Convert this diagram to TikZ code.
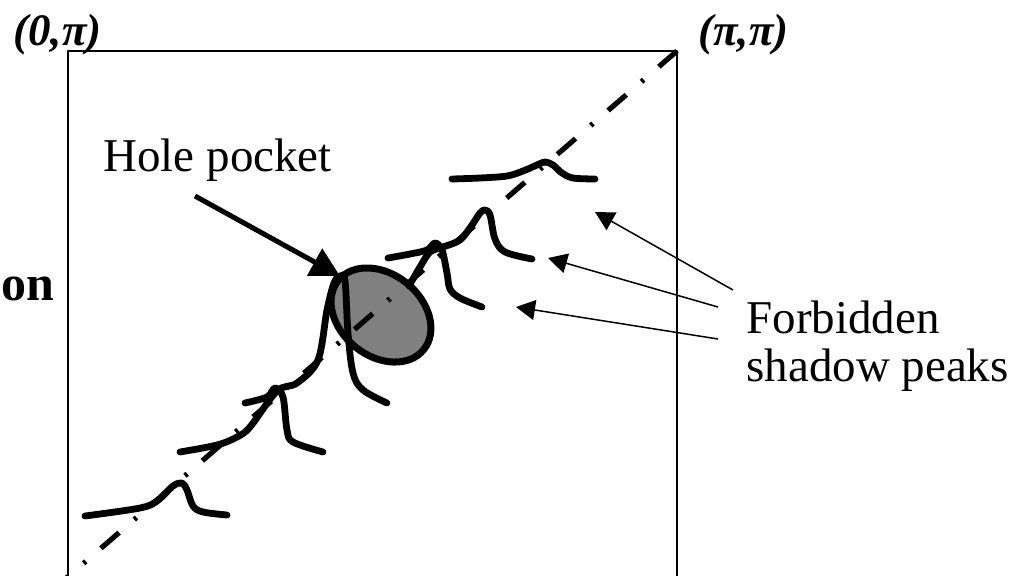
\documentclass[tikz,border=0pt]{standalone}
\usepackage{fontspec}
\setmainfont{Liberation Serif}
\usetikzlibrary{arrows.meta,shapes.geometric}
\definecolor{pkInk}{HTML}{000000}
\definecolor{pkGray}{HTML}{808080}
\tikzset{
 shadowfig/.style={line cap=butt,line join=round,text=pkInk,
   every node/.style={inner sep=0pt}},
 frame/.style={draw=pkInk,line width=.8pt},
 nodal/.style={draw=pkInk,line width=2.6pt,
   dash pattern=on 12pt off 10pt on 1.5pt off 10pt},
 peak/.style={draw=pkInk,line width=3.4pt,line cap=round,line join=round},
 pocket/.style={ellipse,draw=pkInk,fill=pkGray,line width=3.5pt,
   minimum width=55pt,minimum height=41pt,inner sep=0pt,rotate=-39},
 bigarrow/.style={draw=pkInk,line width=2.5pt,-{Triangle[length=14.5pt,width=15pt]}},
 thinarrow/.style={draw=pkInk,line width=.75pt,-{Triangle[length=9.5pt,width=10pt]}},
 lbl/.style={font=\fontsize{23.5}{24}\selectfont,align=left},
 cornerlbl/.style={font=\fontsize{22.5}{24}\selectfont\bfseries\itshape,anchor=base west}
}

\begin{document}
\begin{tikzpicture}[shadowfig,x=.5pt,y=-.5pt]
 \useasboundingbox (0,0) rectangle (1035,575);
 \clip (0,0) rectangle (1035,575);
 % zone boundary and nodal line
 \coordinate (zoneNW) at (68,51); \coordinate (zoneNE) at (677,51);
 \coordinate (zoneS) at (677,600); \coordinate (nodalEnd) at (41,600);
 \draw[frame] (zoneNW) rectangle (zoneS);
 \node[cornerlbl] (zero) at (13,45) {(0,π)};
 \node[cornerlbl] (pipi) at (698,45) {(π,π)};
 \node[font=\fontsize{25}{28}\selectfont\bfseries,anchor=base west] (dirn) at (1,300) {on};
 % hole pocket
 \node[pocket] (pocket) at (381,315) {};
 \draw[nodal] (zoneNE) -- (nodalEnd);
 % shadow peaks along the nodal line
 \draw[peak] plot[smooth,tension=.55] coordinates {(452,179) (480,178) (507,176)
   (523,171) (537,165) (545,162) (553,165) (562,173) (573,178) (595,179)};
 \draw[peak] plot[smooth,tension=.55] coordinates {(409,286) (420,267) (430,252)
   (443,247) (460,240) (472,225) (480,213) (485,210) (490,215) (495,239)
   (505,252) (532,259)};
 \draw[peak] plot[smooth,tension=.55] coordinates {(388,258) (410,254) (427,250)
   (435,243) (442,250) (447,273) (450,289) (460,298) (482,307)};
 \draw[peak] plot[smooth,tension=.55] coordinates {(180,452) (217,445) (237,437)
   (250,427) (277,391) (297,383) (318,360) (327,310) (334,283) (340,276)
   (345,281) (348,333) (353,373) (363,390) (387,403)};
 \draw[peak] plot[smooth,tension=.55] coordinates {(245,403) (267,397) (275,388)
   (283,397) (287,430) (293,442) (323,452)};
 \draw[peak] plot[smooth,tension=.55] coordinates {(85,516) (140,508) (157,501)
   (173,486) (182,483) (187,490) (193,506) (203,512) (227,515)};
 % labels and pointers
 \node[lbl,anchor=base west] (hole) at (103,171) {Hole pocket};
 \coordinate (holeFrom) at (195,196); \coordinate (holeTip) at (340,276);
 \draw[bigarrow] (holeFrom) -- (holeTip);
 \node[lbl,anchor=north west] (forbid) at (746,300) {Forbidden\\shadow peaks};
 \coordinate (fromA) at (733,290); \coordinate (tipA) at (595,212);
 \coordinate (fromB) at (718,307); \coordinate (tipB) at (548,258);
 \coordinate (fromC) at (718,339); \coordinate (tipC) at (516,307);
 \draw[thinarrow] (fromA) -- (tipA);
 \draw[thinarrow] (fromB) -- (tipB);
 \draw[thinarrow] (fromC) -- (tipC);
\end{tikzpicture}
\end{document}
